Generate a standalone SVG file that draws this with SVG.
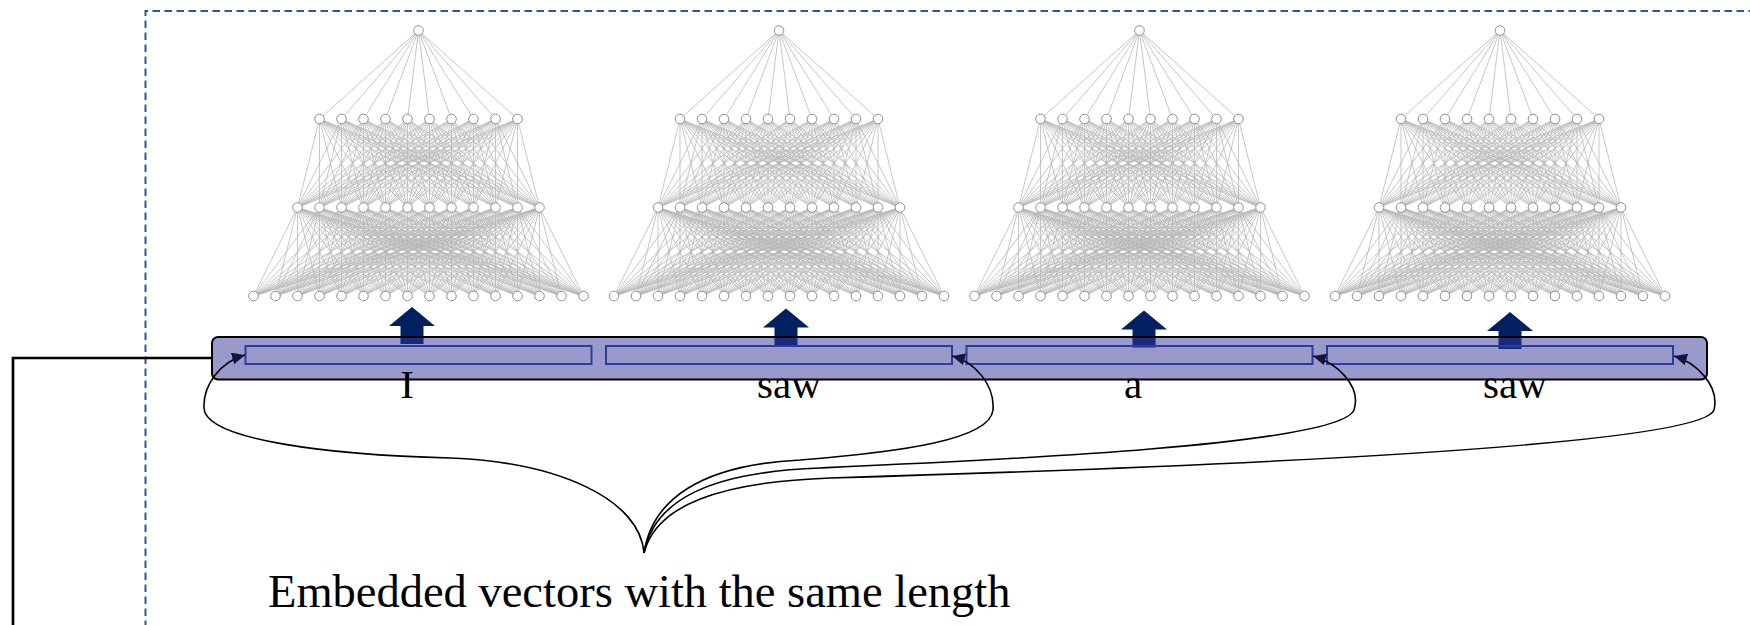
<svg xmlns="http://www.w3.org/2000/svg" xmlns:xlink="http://www.w3.org/1999/xlink" width="1750" height="625" viewBox="0 0 1750 625">
<style>
.edge{fill:none;stroke:#b4b4b4;stroke-width:0.75}
.neu{fill:#fff;stroke:#909090;stroke-width:1}
.blk{fill:#002060}
.bar{fill:#333399;fill-opacity:.5;stroke:#000;stroke-width:2}
.vec{fill:none;stroke:#2e3c9c;stroke-width:2}
.lbl{font-family:"Liberation Serif","Times New Roman",serif;font-size:41px;fill:#000;text-anchor:middle}
.cap{font-family:"Liberation Serif","Times New Roman",serif;font-size:46.5px;fill:#000}
.cur{fill:none;stroke:#000;stroke-width:1.6}
.frame{fill:none;stroke:#2f5597;stroke-width:2;stroke-dasharray:7.5 4.5}
.link{fill:none;stroke:#000;stroke-width:2.7}
</style>
<defs>
<marker id="ah" markerUnits="userSpaceOnUse" markerWidth="14" markerHeight="12" refX="13" refY="6" orient="auto">
<path d="M0 0L13 6L0 12z" fill="#14143c"/>
</marker>
<path id="f23" class="edge" vector-effect="non-scaling-stroke" d="M0 119L-121 207.5M0 119L-99 207.5M0 119L-77 207.5M0 119L-55 207.5M0 119L-33 207.5M0 119L-11 207.5M0 119L11 207.5M0 119L33 207.5M0 119L55 207.5M0 119L77 207.5M0 119L99 207.5M0 119L121 207.5"/>
<path id="f34" class="edge" vector-effect="non-scaling-stroke" d="M0 207.5L-165 296M0 207.5L-143 296M0 207.5L-121 296M0 207.5L-99 296M0 207.5L-77 296M0 207.5L-55 296M0 207.5L-33 296M0 207.5L-11 296M0 207.5L11 296M0 207.5L33 296M0 207.5L55 296M0 207.5L77 296M0 207.5L99 296M0 207.5L121 296M0 207.5L143 296M0 207.5L165 296"/>
<g id="net">
<path class="edge" d="M0 30.5L-99 119M0 30.5L-77 119M0 30.5L-55 119M0 30.5L-33 119M0 30.5L-11 119M0 30.5L11 119M0 30.5L33 119M0 30.5L55 119M0 30.5L77 119M0 30.5L99 119"/>
<use href="#f23" transform="matrix(1 0 1.118644 1 -232.119 0)"/>
<use href="#f23" transform="matrix(1 0 0.870056 1 -180.537 0)"/>
<use href="#f23" transform="matrix(1 0 0.621469 1 -128.955 0)"/>
<use href="#f23" transform="matrix(1 0 0.372881 1 -77.373 0)"/>
<use href="#f23" transform="matrix(1 0 0.124294 1 -25.791 0)"/>
<use href="#f23" transform="matrix(1 0 -0.124294 1 25.791 0)"/>
<use href="#f23" transform="matrix(1 0 -0.372881 1 77.373 0)"/>
<use href="#f23" transform="matrix(1 0 -0.621469 1 128.955 0)"/>
<use href="#f23" transform="matrix(1 0 -0.870056 1 180.537 0)"/>
<use href="#f23" transform="matrix(1 0 -1.118644 1 232.119 0)"/>
<use href="#f34" transform="matrix(1 0 1.367232 1 -404.701 0)"/>
<use href="#f34" transform="matrix(1 0 1.118644 1 -331.119 0)"/>
<use href="#f34" transform="matrix(1 0 0.870056 1 -257.537 0)"/>
<use href="#f34" transform="matrix(1 0 0.621469 1 -183.955 0)"/>
<use href="#f34" transform="matrix(1 0 0.372881 1 -110.373 0)"/>
<use href="#f34" transform="matrix(1 0 0.124294 1 -36.791 0)"/>
<use href="#f34" transform="matrix(1 0 -0.124294 1 36.791 0)"/>
<use href="#f34" transform="matrix(1 0 -0.372881 1 110.373 0)"/>
<use href="#f34" transform="matrix(1 0 -0.621469 1 183.955 0)"/>
<use href="#f34" transform="matrix(1 0 -0.870056 1 257.537 0)"/>
<use href="#f34" transform="matrix(1 0 -1.118644 1 331.119 0)"/>
<use href="#f34" transform="matrix(1 0 -1.367232 1 404.701 0)"/>
<g class="neu">
<circle cx="0" cy="30.5" r="4.8"/>
<circle cx="-99" cy="119" r="4.8"/><circle cx="-77" cy="119" r="4.8"/><circle cx="-55" cy="119" r="4.8"/><circle cx="-33" cy="119" r="4.8"/><circle cx="-11" cy="119" r="4.8"/><circle cx="11" cy="119" r="4.8"/><circle cx="33" cy="119" r="4.8"/><circle cx="55" cy="119" r="4.8"/><circle cx="77" cy="119" r="4.8"/><circle cx="99" cy="119" r="4.8"/>
<circle cx="-121" cy="207.5" r="4.8"/><circle cx="-99" cy="207.5" r="4.8"/><circle cx="-77" cy="207.5" r="4.8"/><circle cx="-55" cy="207.5" r="4.8"/><circle cx="-33" cy="207.5" r="4.8"/><circle cx="-11" cy="207.5" r="4.8"/><circle cx="11" cy="207.5" r="4.8"/><circle cx="33" cy="207.5" r="4.8"/><circle cx="55" cy="207.5" r="4.8"/><circle cx="77" cy="207.5" r="4.8"/><circle cx="99" cy="207.5" r="4.8"/><circle cx="121" cy="207.5" r="4.8"/>
<circle cx="-165" cy="296" r="4.8"/><circle cx="-143" cy="296" r="4.8"/><circle cx="-121" cy="296" r="4.8"/><circle cx="-99" cy="296" r="4.8"/><circle cx="-77" cy="296" r="4.8"/><circle cx="-55" cy="296" r="4.8"/><circle cx="-33" cy="296" r="4.8"/><circle cx="-11" cy="296" r="4.8"/><circle cx="11" cy="296" r="4.8"/><circle cx="33" cy="296" r="4.8"/><circle cx="55" cy="296" r="4.8"/><circle cx="77" cy="296" r="4.8"/><circle cx="99" cy="296" r="4.8"/><circle cx="121" cy="296" r="4.8"/><circle cx="143" cy="296" r="4.8"/><circle cx="165" cy="296" r="4.8"/>
</g>
</g>
<path id="uparrow" class="blk" d="M0 0L23 19H11.5V37H-11.5V19H-23z"/>
</defs>

<rect width="1750" height="625" fill="#fff"/>

<g id="frame">
<path class="frame" d="M145.5 640V11H1760"/>
</g>

<g id="ffn1" transform="translate(418.5 0)"><use href="#net"/></g>
<g id="ffn2" transform="translate(779 0)"><use href="#net"/></g>
<g id="ffn3" transform="translate(1139.5 0)"><use href="#net"/></g>
<g id="ffn4" transform="translate(1500 0)"><use href="#net"/></g>

<g id="arrows-up">
<use href="#uparrow" transform="translate(412 307)"/>
<use href="#uparrow" transform="translate(786 308.5)"/>
<use href="#uparrow" transform="translate(1144 310.5)"/>
<use href="#uparrow" transform="translate(1510 312)"/>
</g>

<g id="sequence">
<rect class="bar" x="212" y="337" width="1495" height="42.5" rx="6"/>
</g>
<g id="vec1"><rect class="vec" x="245.5" y="346" width="346" height="18"/><text class="lbl" x="407" y="397.5">I</text></g>
<g id="vec2"><rect class="vec" x="606" y="346" width="346" height="18"/><text class="lbl" x="789" y="397.5">saw</text></g>
<g id="vec3"><rect class="vec" x="966.5" y="346" width="346" height="18"/><text class="lbl" x="1133" y="397.5">a</text></g>
<g id="vec4"><rect class="vec" x="1327" y="346" width="346" height="18"/><text class="lbl" x="1515" y="397.5">saw</text></g>

<g id="connectors">
<path class="link" d="M212 358H13V640"/>
<path class="cur" marker-end="url(#ah)" d="M644 553C640 500 560 462 450 458C330 455 205 440 204 408C203 385 220 362 245 355"/>
<path class="cur" marker-end="url(#ah)" d="M644 553C652 500 700 465 800 460C900 452 990 440 993 410C995 385 975 362 952 356"/>
<path class="cur" marker-end="url(#ah)" d="M644 553C654 500 710 472 820 468C1000 460 1340 445 1354 410C1362 385 1335 362 1313 356"/>
<path class="cur" marker-end="url(#ah)" d="M644 553C656 505 720 482 830 478C1100 470 1700 450 1714 410C1720 385 1695 362 1674 356"/>
</g>

<g id="caption">
<text class="cap" x="268" y="607">Embedded vectors with the same length</text>
</g>
</svg>
